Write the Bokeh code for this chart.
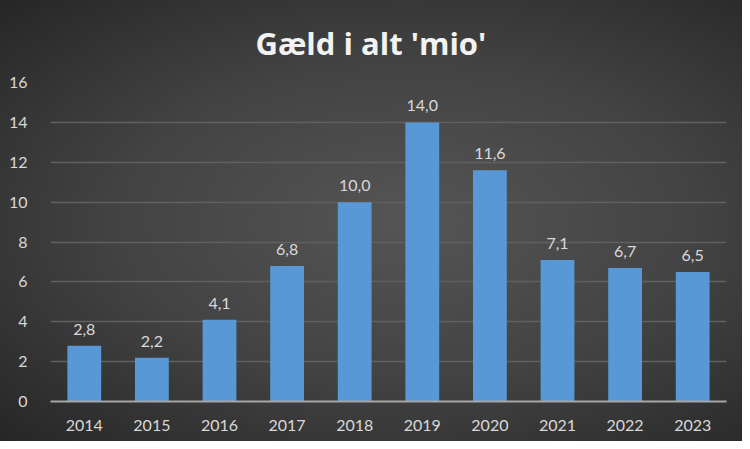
from bokeh.plotting import figure
from bokeh.models import ColumnDataSource, FixedTicker, LabelSet, Range1d
from bokeh.core.properties import value
from bokeh.embed import file_html
from bokeh.resources import INLINE

years = ["2014", "2015", "2016", "2017", "2018", "2019", "2020", "2021", "2022", "2023"]
values = [2.8, 2.2, 4.1, 6.8, 10.0, 14.0, 11.6, 7.1, 6.7, 6.5]
labels = [f"{v:.1f}".replace(".", ",") for v in values]
y_ticks = [0, 2, 4, 6, 8, 10, 12, 14, 16]

src = ColumnDataSource(dict(x=years, top=values, label=labels))

FONT = "Lato"
p = figure(x_range=years, y_range=Range1d(0, 16), width=742, height=441,
           output_backend="svg", toolbar_location=None,
           min_border_left=50, min_border_right=16, min_border_top=82, min_border_bottom=40)
p.styles = {"background": "radial-gradient(ellipse at 55% 50%, #555555 0%, #434343 50%, #262626 100%)"}
p.border_fill_alpha = 0
p.background_fill_alpha = 0
p.outline_line_color = None

p.title.text = "Gæld i alt 'mio'"
p.title.align = "left"
p.title.offset = 205
p.title.text_color = "#f2f2f2"
p.title.text_font = "Open Sans"
p.title.text_font_size = "31px"
p.title.text_font_style = "bold"
p.title.standoff = 38

p.vbar(x="x", top="top", width=0.5, source=src, fill_color="#5898d6", line_color=None)

p.add_layout(LabelSet(x="x", y="top", text="label", source=src, text_align="center",
                      text_baseline="bottom", y_offset=11, text_color="#d9d9d9",
                      text_font=value(FONT), text_font_size=value("16px")))

p.yaxis.ticker = FixedTicker(ticks=y_ticks)
p.yaxis.axis_line_color = None
p.yaxis.major_tick_line_color = None
p.yaxis.minor_tick_line_color = None
p.yaxis.major_label_text_color = "#d9d9d9"
p.yaxis.major_label_text_font = FONT
p.yaxis.major_label_text_font_size = "16px"
p.yaxis.major_label_standoff = 17

p.xaxis.axis_line_color = "#a6a6a6"
p.xaxis.axis_line_width = 2
p.xaxis.major_tick_line_color = None
p.xaxis.minor_tick_line_color = None
p.xaxis.major_label_text_color = "#d9d9d9"
p.xaxis.major_label_text_font = FONT
p.xaxis.major_label_text_font_size = "16px"
p.xaxis.major_label_standoff = 12

p.xgrid.grid_line_color = None
p.ygrid.grid_line_color = "#606060"
p.ygrid.grid_line_width = 1.5
p.x_range.range_padding = 0

open("out.html", "w").write(file_html(p, INLINE))
